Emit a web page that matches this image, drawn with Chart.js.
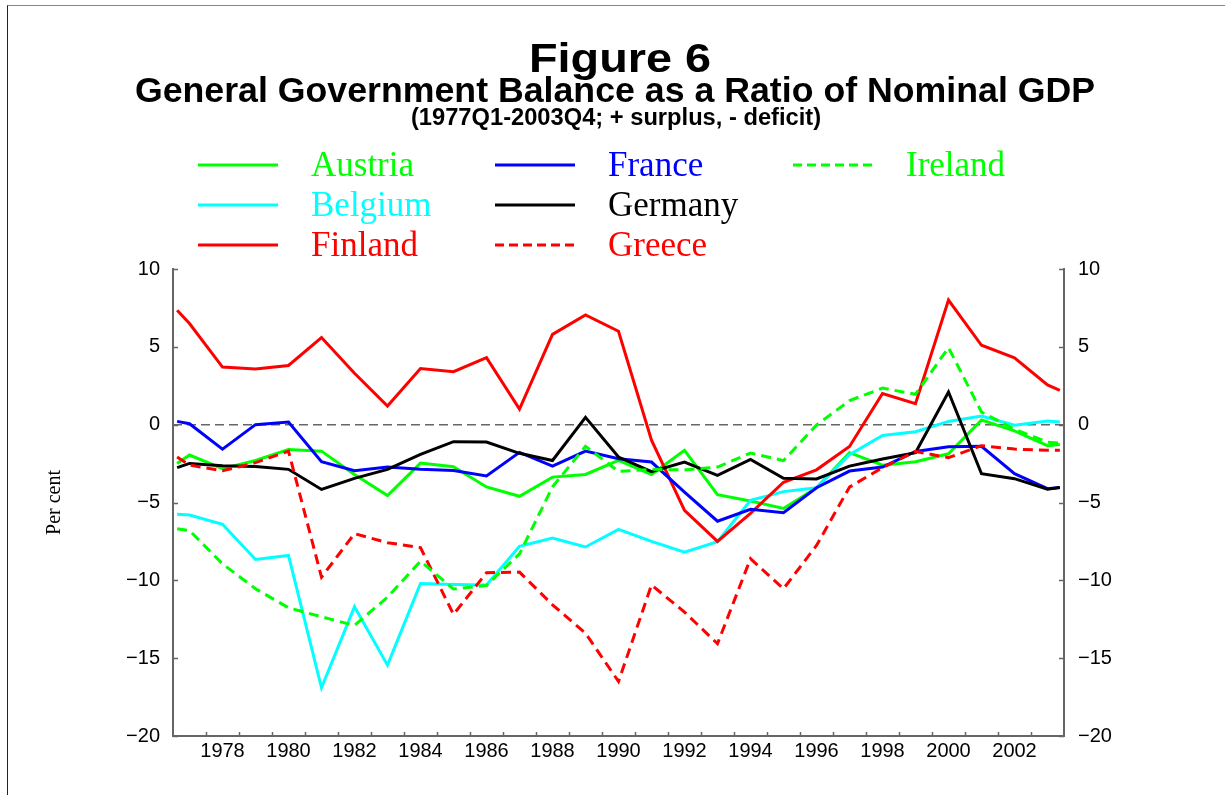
<!DOCTYPE html>
<html>
<head>
<meta charset="utf-8">
<title>Figure 6</title>
<script src="https://cdn.jsdelivr.net/npm/chart.js@4.4.0/dist/chart.umd.min.js"></script>
<style>
  html, body { margin: 0; padding: 0; background: #fff; }
  #wrap { position: relative; width: 1225px; height: 795px; overflow: hidden; }
  #frame { position: absolute; left: 7px; top: 5px; width: 1300px; height: 900px;
           border-left: 1px solid #222; border-top: 1px solid #888; }
  #grafico { position: absolute; left: 0; top: 0; }
</style>
</head>
<body>
<div id="wrap">
  <div id="frame"></div>
  <canvas id="grafico" width="1225" height="795"></canvas>
</div>
<script>
/************************************************************
*   General Government Balance as a Ratio of Nominal GDP    *
************************************************************/

var tituloFigura = 'Figure 6';
var tituloGrafico = 'General Government Balance as a Ratio of Nominal GDP';
var subtitulo = '(1977Q1-2003Q4; + surplus, - deficit)';
var tituloEje = 'Per cent';

// time of each point (years): 1977Q1, mid-year 1977..2003, 2003Q4
var tiempos = [1977.125, 1977.5, 1978.5, 1979.5, 1980.5, 1981.5, 1982.5, 1983.5,
  1984.5, 1985.5, 1986.5, 1987.5, 1988.5, 1989.5, 1990.5, 1991.5, 1992.5,
  1993.5, 1994.5, 1995.5, 1996.5, 1997.5, 1998.5, 1999.5, 2000.5, 2001.5,
  2002.5, 2003.5, 2003.875];

var austria = [-2.5, -1.95, -2.83, -2.3, -1.6, -1.7, -3.2, -4.55, -2.47, -2.7,
  -4.0, -4.6, -3.37, -3.2, -2.3, -3.2, -1.65, -4.5, -4.9, -5.38, -4.05, -1.8,
  -2.6, -2.38, -1.87, 0.3, -0.4, -1.35, -1.27];
var belgium = [-5.76, -5.8, -6.4, -8.66, -8.4, -16.9, -11.7, -15.45, -10.2,
  -10.26, -10.3, -7.82, -7.29, -7.86, -6.73, -7.5, -8.19, -7.52, -4.86, -4.3,
  -4.05, -1.93, -0.7, -0.45, 0.21, 0.55, -0.04, 0.23, 0.17];
var finland = [7.35, 6.5, 3.7, 3.57, 3.8, 5.6, 3.3, 1.2, 3.6, 3.4, 4.3, 1.0,
  5.8, 7.05, 6.0, -1.0, -5.5, -7.5, -5.7, -3.7, -2.9, -1.4, 2.0, 1.35, 8.0,
  5.1, 4.3, 2.55, 2.2];
var france = [0.21, 0.06, -1.57, 0.0, 0.17, -2.38, -2.96, -2.72, -2.87, -2.94,
  -3.3, -1.78, -2.66, -1.7, -2.19, -2.4, -4.33, -6.2, -5.44, -5.66, -4.05,
  -2.98, -2.72, -1.72, -1.42, -1.39, -3.15, -4.11, -4.03];
var germany = [-2.76, -2.49, -2.64, -2.68, -2.87, -4.16, -3.45, -2.87, -1.91,
  -1.09, -1.12, -1.84, -2.3, 0.47, -2.08, -3.02, -2.4, -3.26, -2.23, -3.45,
  -3.49, -2.66, -2.21, -1.8, 2.1, -3.15, -3.47, -4.14, -4.03];
var greece = [-2.08, -2.6, -2.96, -2.44, -1.7, -9.8, -7.0, -7.58, -7.9, -12.19,
  -9.51, -9.47, -11.57, -13.39, -16.5, -10.3, -12.04, -14.07, -8.61, -10.54,
  -7.76, -4.01, -2.76, -1.72, -2.12, -1.35, -1.57, -1.65, -1.65];
var ireland = [-6.69, -6.8, -8.94, -10.54, -11.76, -12.34, -12.9, -11.08,
  -8.77, -10.56, -10.33, -8.3, -4.0, -1.39, -3.0, -2.87, -2.91, -2.72, -1.82,
  -2.31, -0.02, 1.54, 2.35, 1.95, 4.95, 0.81, -0.3, -1.12, -1.18];

var paises = ['Austria', 'Belgium', 'Finland', 'France', 'Germany', 'Greece', 'Ireland'];
var series = [austria, belgium, finland, france, germany, greece, ireland];
var colores = ['#00ff00', '#00ffff', '#ff0000', '#0000ff', '#000000', '#ff0000', '#00ff00'];
var punteada = [false, false, false, false, false, true, true];

var ejeY = [-20, 10];
var ejeX = [1977, 2004];

var fuenteSans = '"Liberation Sans", Arial, Helvetica, sans-serif';
var fuenteSerif = '"Liberation Serif", "Times New Roman", serif';

function puntos(valores) {
  return valores.map(function (v, i) { return { x: tiempos[i], y: v }; });
}

function formatoY(valor) {
  return valor < 0 ? '\u2212' + Math.abs(valor) : String(valor);
}

// year labels sit in the middle of the year, every second year
function formatoX(valor) {
  var anio = Math.floor(valor);
  if (Math.abs(valor - anio - 0.5) < 1e-6 && anio % 2 === 0) return String(anio);
  return '';
}

// the original heading font is a bit wider than Liberation Sans
function textoAncho(ctx, texto, cx, base, escala) {
  ctx.save();
  ctx.translate(cx, base);
  ctx.scale(escala, 1);
  ctx.fillText(texto, 0, 0);
  ctx.restore();
}

var datasets = paises.map(function (p, i) {
  return {
    label: p,
    data: puntos(series[i]),
    borderColor: colores[i],
    backgroundColor: colores[i],
    borderWidth: 3,
    borderDash: punteada[i] ? [10, 6] : [],
    pointRadius: 0,
    tension: 0,
    fill: false,
    order: paises.length - i
  };
});

// titles, legend, zero line and the inward tick marks
var decoracion = {
  id: 'decoracion',
  beforeDatasetsDraw: function (chart) {
    var ctx = chart.ctx, a = chart.chartArea, y0 = chart.scales.y.getPixelForValue(0);
    ctx.save();
    ctx.strokeStyle = '#666';
    ctx.lineWidth = 1.5;
    ctx.setLineDash([9, 5]);
    ctx.beginPath();
    ctx.moveTo(a.left, y0);
    ctx.lineTo(a.right, y0);
    ctx.stroke();
    ctx.restore();
  },
  afterDraw: function (chart) {
    var ctx = chart.ctx, a = chart.chartArea;
    var sx = chart.scales.x, sy = chart.scales.y;
    ctx.save();

    // tick marks pointing into the plot
    ctx.strokeStyle = '#666';
    ctx.lineWidth = 1.5;
    ctx.beginPath();
    for (var t = ejeX[0] + 1; t < ejeX[1]; t++) {
      var px = Math.round(sx.getPixelForValue(t)) + 0.5;
      ctx.moveTo(px, a.bottom);
      ctx.lineTo(px, a.bottom - 4);
    }
    for (var v = ejeY[0]; v <= ejeY[1]; v += 5) {
      var py = Math.round(sy.getPixelForValue(v)) + 0.5;
      ctx.moveTo(a.left, py);
      ctx.lineTo(a.left + 5, py);
      ctx.moveTo(a.right, py);
      ctx.lineTo(a.right - 5, py);
    }
    ctx.stroke();

    // titles
    ctx.fillStyle = '#000';
    ctx.textAlign = 'center';
    ctx.textBaseline = 'alphabetic';
    ctx.font = 'bold 40px ' + fuenteSans;
    textoAncho(ctx, tituloFigura, 620, 72, 1.17);
    ctx.font = 'bold 35px ' + fuenteSans;
    textoAncho(ctx, tituloGrafico, 615, 102, 1.02);
    ctx.font = 'bold 23px ' + fuenteSans;
    textoAncho(ctx, subtitulo, 616, 125, 1.03);

    // legend, three columns of three rows
    var colLinea = [198, 495, 793];
    ctx.textAlign = 'left';
    ctx.font = '35px ' + fuenteSerif;
    chart.data.datasets.forEach(function (ds, i) {
      var col = Math.floor(i / 3), fila = i % 3;
      var x0 = colLinea[col], yy = 165 + fila * 40;
      ctx.strokeStyle = ds.borderColor;
      ctx.lineWidth = 3;
      ctx.setLineDash(ds.borderDash.length ? [9, 5] : []);
      ctx.beginPath();
      ctx.moveTo(x0, yy);
      ctx.lineTo(x0 + 80, yy);
      ctx.stroke();
      ctx.fillStyle = ds.borderColor;
      ctx.fillText(ds.label, x0 + 113, yy + 11);
    });
    ctx.restore();
  }
};

var config = {
  type: 'line',
  data: { datasets: datasets },
  options: {
    responsive: false,
    animation: false,
    devicePixelRatio: 1,
    layout: { padding: { top: 269, left: 0, right: 0, bottom: 0 } },
    plugins: {
      legend: { display: false },
      tooltip: { enabled: false }
    },
    scales: {
      x: {
        type: 'linear',
        min: ejeX[0],
        max: ejeX[1],
        grid: { display: false, drawTicks: false },
        border: { display: true, color: '#666', width: 2 },
        ticks: {
          stepSize: 0.5, autoSkip: false, maxRotation: 0, padding: 3,
          color: '#000', font: { family: fuenteSans, size: 20 },
          callback: formatoX
        },
        afterFit: function (s) { s.height = 59; }
      },
      y: {
        position: 'left',
        min: ejeY[0],
        max: ejeY[1],
        grid: { display: false, drawTicks: false },
        border: { display: true, color: '#666', width: 2 },
        ticks: {
          stepSize: 5, padding: 13, color: '#000',
          font: { family: fuenteSans, size: 20 }, callback: formatoY
        },
        title: {
          display: true, text: tituloEje, color: '#000',
          font: { family: fuenteSerif, size: 20 }, padding: { top: 43, bottom: 0 }
        },
        afterFit: function (s) { s.width = 173; }
      },
      y2: {
        position: 'right',
        display: true,
        min: ejeY[0],
        max: ejeY[1],
        grid: { display: false, drawTicks: false },
        border: { display: true, color: '#666', width: 2 },
        ticks: {
          stepSize: 5, padding: 14, color: '#000',
          font: { family: fuenteSans, size: 20 }, callback: formatoY
        },
        afterFit: function (s) { s.width = 161; }
      }
    }
  },
  plugins: [decoracion]
};

var grafico = new Chart(document.getElementById('grafico').getContext('2d'), config);
</script>
</body>
</html>
